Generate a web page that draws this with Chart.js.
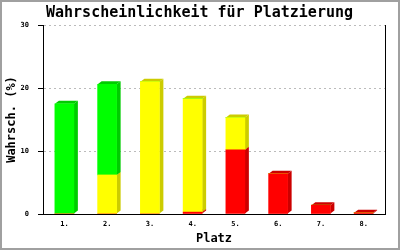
<!DOCTYPE html>
<html>
<head>
<meta charset="utf-8">
<script src="https://cdn.jsdelivr.net/npm/chart.js@4/dist/chart.umd.min.js"></script>
<style>
html,body{margin:0;padding:0;background:#fff;}
canvas{display:block;}
</style>
</head>
<body>
<canvas id="c" width="400" height="250"></canvas>
<script>
const places = ["1.", "2.", "3.", "4.", "5.", "6.", "7.", "8."];
const redValues    = [0, 0, 0, 0.3, 10.2, 6.4, 1.4, 0.2];
const yellowValues = [0, 6.2, 21.0, 18.0, 5.1, 0, 0, 0];
const greenValues  = [17.5, 14.4, 0, 0, 0, 0, 0, 0];
const yTicks = [0, 10, 20, 30];

const sideColors = ["#cc0000", "#cccc00", "#00cc00"];
const DX = 4, DY = 3;

const bars3d = {
  id: "bars3d",
  beforeDatasetsDraw(chart) {
    const ctx = chart.ctx;
    ctx.save();
    chart.data.datasets.forEach((ds, di) => {
      const meta = chart.getDatasetMeta(di);
      meta.data.forEach((el, i) => {
        if (!ds.data[i]) return;
        const p = el.getProps(["x", "y", "base", "width"], true);
        const l = p.x - p.width / 2, r = p.x + p.width / 2;
        const t = Math.min(p.y, p.base), b = Math.max(p.y, p.base);
        ctx.fillStyle = sideColors[di];
        ctx.beginPath();
        ctx.moveTo(r, t); ctx.lineTo(r + DX, t - DY); ctx.lineTo(r + DX, b - DY); ctx.lineTo(r, b);
        ctx.closePath(); ctx.fill();
        ctx.beginPath();
        ctx.moveTo(l, t); ctx.lineTo(l + DX, t - DY); ctx.lineTo(r + DX, t - DY); ctx.lineTo(r, t);
        ctx.closePath(); ctx.fill();
      });
    });
    ctx.restore();
  },
  afterDraw(chart) {
    const ctx = chart.ctx, a = chart.chartArea;
    ctx.save();
    ctx.strokeStyle = "#000"; ctx.lineWidth = 1;
    ctx.beginPath();
    ctx.moveTo(Math.round(a.right) + 0.5, a.top);
    ctx.lineTo(Math.round(a.right) + 0.5, a.bottom + 0.5);
    ctx.stroke();
    ctx.strokeStyle = "#a0a0a0"; ctx.lineWidth = 2;
    ctx.strokeRect(1, 1, 398, 248);
    ctx.restore();
  }
};

new Chart(document.getElementById("c"), {
  type: "bar",
  data: {
    labels: places,
    datasets: [
      { label: "rot", data: redValues, backgroundColor: "#ff0000", stack: "s" },
      { label: "gelb", data: yellowValues, backgroundColor: "#ffff00", stack: "s" },
      { label: "grün", data: greenValues, backgroundColor: "#00ff00", stack: "s" }
    ]
  },
  options: {
    responsive: false,
    animation: false,
    layout: { padding: { left: 7, right: 8, top: 0, bottom: 0 } },
    datasets: { bar: { barThickness: 19, borderWidth: 0 } },
    plugins: {
      legend: { display: false },
      tooltip: { enabled: false },
      title: {
        display: true,
        text: "Wahrscheinlichkeit für Platzierung",
        color: "#000",
        font: { family: "DejaVu Sans Mono", size: 15, weight: "bold" },
        padding: { top: 4, bottom: 3 }
      }
    },
    scales: {
      x: {
        stacked: true,
        grid: { display: false, drawTicks: false },
        border: { display: true, color: "#000", width: 1 },
        ticks: { color: "#000", padding: 6, font: { family: "DejaVu Sans Mono", size: 7, weight: "bold" }, maxRotation: 0 },
        title: { display: true, text: "Platz", color: "#000", font: { family: "DejaVu Sans Mono", size: 12, weight: "bold" }, padding: { top: 0, bottom: 4 } },
        afterFit(s) { s.height = 36; }
      },
      y: {
        stacked: true,
        min: 0, max: 30,
        afterBuildTicks(s) { s.ticks = yTicks.map(v => ({ value: v })); },
        grid: { color: "#bbbbbb", lineWidth: 1, drawTicks: true, tickLength: 5, tickColor: "#000" },
        border: { display: true, color: "#000", width: 1, dash: [2, 3] },
        ticks: { color: "#000", padding: 9, font: { family: "DejaVu Sans Mono", size: 7, weight: "bold" } },
        title: { display: true, text: "Wahrsch. (%)", color: "#000", font: { family: "DejaVu Sans Mono", size: 12, weight: "bold" }, padding: { top: -2, bottom: 0 } },
        afterFit(s) { s.width = 36; }
      },
      yRight: {
        position: "right",
        min: 0, max: 30,
        grid: { display: false, drawTicks: false },
        border: { display: false },
        ticks: { display: false },
        afterFit(s) { s.width = 7; }
      }
    }
  },
  plugins: [bars3d]
});
</script>
</body>
</html>
